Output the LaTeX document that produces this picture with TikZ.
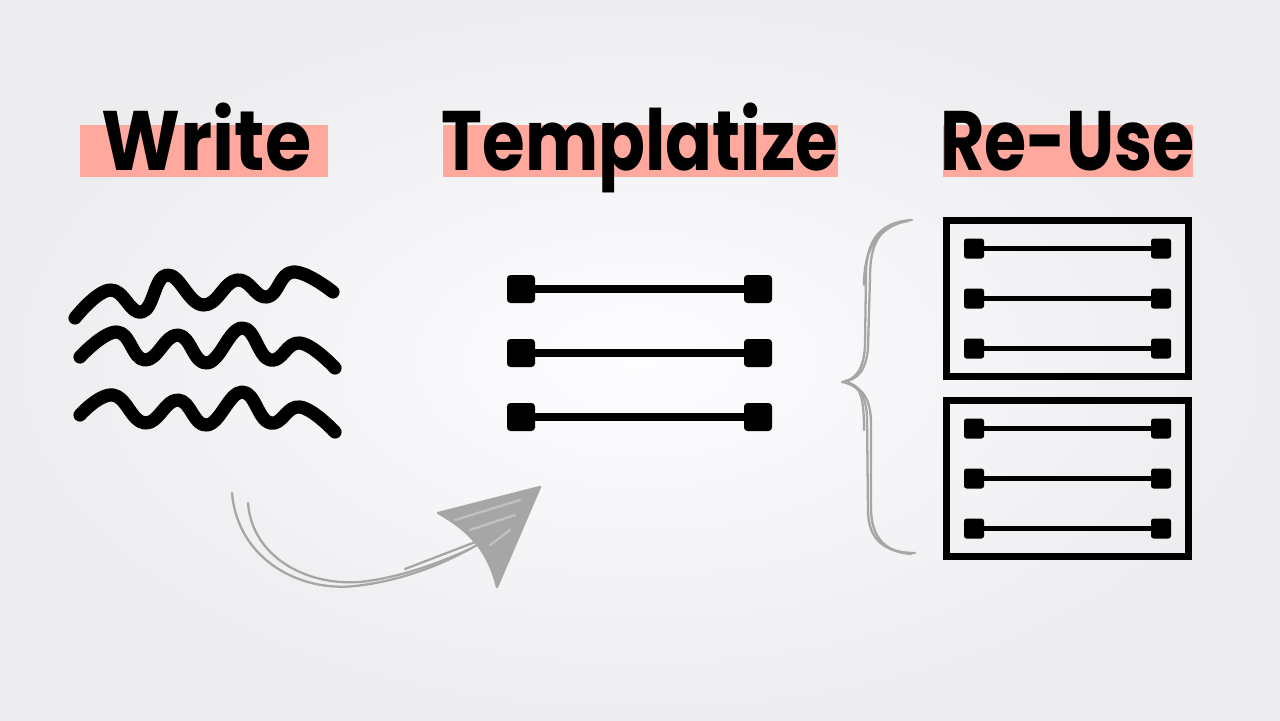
\documentclass[tikz,border=0pt]{standalone}
\usepackage{fontspec}
\usepackage{xcolor}
\usetikzlibrary{math}
\newfontfamily\poppins{Poppins}
\definecolor{mysalmon}{RGB}{255,168,158}
\definecolor{mygray}{RGB}{166,166,166}
\definecolor{bgedge}{RGB}{237,236,239}
\definecolor{bgmid}{RGB}{253,252,254}

\tikzset{
  title/.style={anchor=base, inner sep=0pt, font=\poppins\bfseries\fontsize{48}{50}\selectfont},
  handle/.style={fill=black, rounded corners=2pt, minimum size=0.56cm, inner sep=0pt},
  smallhandle/.style={fill=black, rounded corners=1.5pt, minimum size=0.4cm, inner sep=0pt},
  bar/.style={line width=4pt},
  smallbar/.style={line width=2.5pt},
  frame/.style={draw, line width=4pt, minimum width=4.84cm, minimum height=3.12cm, inner sep=0pt},
  wave/.style={line width=7.5pt, line cap=round, line join=round},
  sketch/.style={draw=mygray, line width=1.3pt, line cap=round, line join=round},
}
\newcommand{\ttl}[2]{\scalebox{#1}[1]{#2}}

\begin{document}
\begin{tikzpicture}[x=0.02cm, y=-0.02cm]
\tikzmath{
\base=170;
\hlt=125;
\hlb=177;
\tl=521;
\tr=758;
\bl=974;
\br=1161;
}
\useasboundingbox (0,0) rectangle (1280,720);
\shade[inner color=bgmid, outer color=bgedge] (0,0) rectangle (1280,720);

%%%%%%%%%% titles
\fill[mysalmon] (80,\hlt) rectangle (328,\hlb);
\fill[mysalmon] (443,\hlt) rectangle (838,\hlb);
\fill[mysalmon] (943,\hlt) rectangle (1193,\hlb);
\node[title] (write) at (206.5,\base) {\ttl{0.89}{Write}};
\node[title] (templ) at (640,\base) {\ttl{0.82}{Templatize}};
\node[title] (reuse) at (1067.5,\base) {\ttl{0.81}{Re-Use}};

%%%%%%%%%% write: wavy lines
\draw[wave] plot[smooth, tension=0.75] coordinates {(75,318) (110,290) (142,312) (167,275) (203,305) (237,280) (267,297) (293,272) (333,292)};
\draw[wave] plot[smooth, tension=0.75] coordinates {(80,357) (117,332) (145,360) (178,335) (207,363) (242,328) (270,360) (300,343) (335,368)};
\draw[wave] plot[smooth, tension=0.75] coordinates {(80,415) (113,395) (145,423) (178,400) (207,425) (242,392) (270,423) (300,407) (335,432)};

%%%%%%%%%% templatize
\node[handle] (l1) at (\tl,289) {};
\node[handle] (r1) at (\tr,289) {};
\node[handle] (l2) at (\tl,353) {};
\node[handle] (r2) at (\tr,353) {};
\node[handle] (l3) at (\tl,417) {};
\node[handle] (r3) at (\tr,417) {};
\draw[bar] (l1) -- (r1);
\draw[bar] (l2) -- (r2);
\draw[bar] (l3) -- (r3);

%%%%%%%%%% sketchy arrow
\coordinate (from) at (232,493);
\coordinate (to) at (477,545);
\draw[sketch] (from) .. controls (238,560) and (300,592) .. (355,586) .. controls (400,581) and (440,566) .. (to);
\draw[sketch] (248,503) .. controls (252,556) and (305,586) .. (360,582) .. controls (405,577) and (445,560) .. (470,549);
\draw[sketch] (405,569) -- (478,541);
\fill[mygray] (438,513) -- (540,487) -- (497,587) .. controls (490,560) and (478,535) .. cycle;
\draw[sketch] (438,513) -- (540,487) -- (497,587) .. controls (490,560) and (478,535) .. cycle;
\draw[sketch, draw=mygray!70] (455,520) -- (520,500) (470,530) -- (515,515) (490,545) -- (510,530);

%%%%%%%%%% brace
\draw[sketch] (912,220) .. controls (880,222) and (866,240) .. (866,275) -- (865,345) .. controls (864,370) and (855,380) .. (842,382)
  .. controls (858,385) and (867,395) .. (867,420) -- (868,510) .. controls (868,540) and (885,553) .. (915,553);
\draw[sketch] (908,221) .. controls (878,226) and (870,245) .. (870,278) -- (868,348) .. controls (866,372) and (856,380) .. (845,381)
  .. controls (862,388) and (871,398) .. (871,424) -- (871,508) .. controls (871,536) and (884,552) .. (911,554);
\draw[sketch] (904,221) .. controls (876,230) and (864,250) .. (864,285) (846,383) .. controls (861,383) and (864,400) .. (864,430);

%%%%%%%%%% re-use: top box
\begin{scope}[shift={(1067.5,298.5)}]
\node[frame] (box1) at (0,0) {};
\node[smallhandle] (a1) at (\bl-1067.5,-50) {};
\node[smallhandle] (b1) at (\br-1067.5,-50) {};
\node[smallhandle] (a2) at (\bl-1067.5,0) {};
\node[smallhandle] (b2) at (\br-1067.5,0) {};
\node[smallhandle] (a3) at (\bl-1067.5,50) {};
\node[smallhandle] (b3) at (\br-1067.5,50) {};
\draw[smallbar] (a1) -- (b1);
\draw[smallbar] (a2) -- (b2);
\draw[smallbar] (a3) -- (b3);
\end{scope}

%%%%%%%%%% re-use: bottom box
\begin{scope}[shift={(1067.5,478.5)}]
\node[frame] (box2) at (0,0) {};
\node[smallhandle] (c1) at (\bl-1067.5,-50) {};
\node[smallhandle] (d1) at (\br-1067.5,-50) {};
\node[smallhandle] (c2) at (\bl-1067.5,0) {};
\node[smallhandle] (d2) at (\br-1067.5,0) {};
\node[smallhandle] (c3) at (\bl-1067.5,50) {};
\node[smallhandle] (d3) at (\br-1067.5,50) {};
\draw[smallbar] (c1) -- (d1);
\draw[smallbar] (c2) -- (d2);
\draw[smallbar] (c3) -- (d3);
\end{scope}

\end{tikzpicture}
\end{document}
